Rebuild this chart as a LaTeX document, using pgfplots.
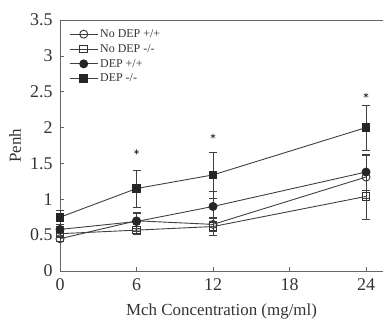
\documentclass[border=0pt]{standalone}
\usepackage{pgfplots}
\pgfplotsset{compat=1.18}
\usepackage{fontspec}
\setmainfont{Liberation Serif}
\usetikzlibrary{calc}
\begin{document}
\begin{tikzpicture}
\begin{axis}[
  scale only axis,
  width=323bp, height=251bp,
  xmin=0, xmax=25.33, ymin=0, ymax=3.5,
  axis lines*=left,
  axis line style={black!60, line width=0.8bp, -},
  xtick={0,6,12,18,24},
  ytick={0,0.5,1,1.5,2,2.5,3,3.5},
  tick align=inside,
  major tick length=4bp,
  tick style={black!60, line width=0.7bp},
  /pgf/number format/assume math mode=true,
  tick label style={font=\fontsize{18}{20}\selectfont, text=black!80},
  xticklabel style={yshift=-4bp},
  yticklabel style={xshift=-4bp},
  xlabel={Mch Concentration (mg/ml)},
  ylabel={Penh},
  label style={font=\fontsize{17}{19}\selectfont, text=black!80},
  xlabel style={at={(axis description cs:0.5,0)}, anchor=center, yshift=-40bp},
  ylabel style={at={(axis description cs:-0.139,0.5)}, anchor=center, rotate=0},
  clip=false,
  legend cell align=left,
  legend style={draw=none, fill=none, at={(0.025,0.975)}, anchor=north west,
    font=\fontsize{12}{13}\selectfont, text=black!80, row sep=1.5bp, inner sep=1bp},
  legend image code/.code={\draw[mark repeat=2,mark phase=2] plot coordinates {(0bp,0bp) (14bp,0bp) (28bp,0bp)};},
]
% No DEP +/+
\addplot[black!75, line width=0.9bp, mark=o, mark size=4bp, mark options={solid, fill=white, draw=black!80, line width=0.9bp},
  error bars/.cd, y dir=both, y explicit, error bar style={line width=0.7bp, black!75},
  error mark options={rotate=90, mark size=4bp, black!75}]
  table[x=x, y=y, y error=e] {
x y e
0 0.45 0.04
6 0.70 0.10
12 0.65 0.10
24 1.31 0.30
};
\addlegendentry{No DEP +/+}
% No DEP -/-
\addplot[black!75, line width=0.9bp, mark=square, mark size=3.8bp, mark options={solid, fill=white, draw=black!80, line width=0.9bp},
  error bars/.cd, y dir=both, y explicit, error bar style={line width=0.7bp, black!75},
  error mark options={rotate=90, mark size=4bp, black!75}]
  table[x=x, y=y, y error=e] {
x y e
0 0.52 0.05
6 0.57 0.05
12 0.62 0.12
24 1.04 0.32
};
\addlegendentry{No DEP -/-}
% DEP +/+
\addplot[black!75, line width=0.9bp, mark=*, mark size=4bp, mark options={solid, fill=black!85, draw=black!85},
  error bars/.cd, y dir=both, y explicit, error bar style={line width=0.7bp, black!75},
  error mark options={rotate=90, mark size=4bp, black!75}]
  table[x=x, y=y, y error=e] {
x y e
0 0.58 0.05
6 0.69 0.13
12 0.90 0.21
24 1.38 0.25
};
\addlegendentry{DEP +/+}
% DEP -/-
\addplot[black!75, line width=0.9bp, mark=square*, mark size=3.8bp, mark options={solid, fill=black!85, draw=black!85},
  error bars/.cd, y dir=both, y explicit, error bar style={line width=0.7bp, black!75},
  error mark options={rotate=90, mark size=4bp, black!75}]
  table[x=x, y=y, y error=e] {
x y e
0 0.75 0.10
6 1.15 0.26
12 1.34 0.32
24 2.00 0.31
};
\addlegendentry{DEP -/-}
% significance asterisks
\addplot[forget plot, only marks, mark=asterisk, mark size=2.5bp, black!80, line width=0.6bp]
  coordinates {(6,1.66) (12,1.88) (24,2.45)};
\end{axis}
\draw[black!60, line width=0.8bp] (current axis.north west) -- (current axis.north east);
\pgfresetboundingbox
\path[use as bounding box] ($(current axis.south west)+(-60bp,-50bp)$) rectangle ($(current axis.north east)+(0bp,20bp)$);
\end{tikzpicture}
\end{document}
